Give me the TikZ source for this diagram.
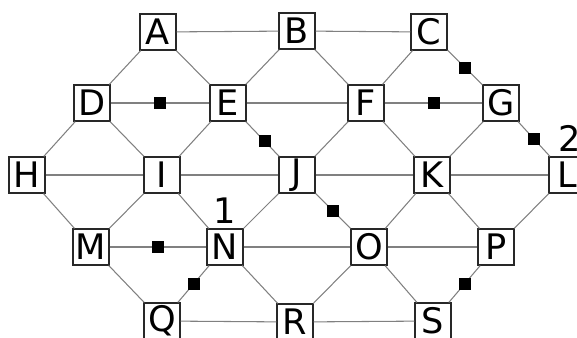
\documentclass[tikz,border=0pt]{standalone}
\usepackage{fontspec}
\setmainfont{DejaVu Sans}
\usepackage{tikz}
\usetikzlibrary{positioning}
\definecolor{edgegray}{RGB}{128, 128, 128}
\definecolor{boxline}{RGB}{40, 40, 40}

\begin{document}
\begin{tikzpicture}[x=0.025cm, y=-0.025cm,
  vbox/.style={rectangle, draw=boxline, fill=white, line width=0.8pt,
    minimum size=0.9cm, inner sep=0pt,
    font=\fontsize{25pt}{26pt}\selectfont},
  edge/.style={draw=edgegray, line width=0.75pt},
  sq/.style={rectangle, fill=black, minimum size=0.3cm, inner sep=0pt},
  num/.style={font=\fontsize{25pt}{26pt}\selectfont}
]
\useasboundingbox (0,0) rectangle (577,337);
\clip (0,0) rectangle (577,337);
% vertices
\node[vbox] at (158, 32)  (a) {A};
\node[vbox] at (297, 31)  (b) {B};
\node[vbox] at (429, 32)  (c) {C};
\node[vbox] at (92,  103) (d) {D};
\node[vbox] at (228, 103) (e) {E};
\node[vbox] at (366, 103) (f) {F};
\node[vbox] at (501, 103) (g) {G};
\node[vbox] at (27,  175) (h) {H};
\node[vbox] at (162, 175) (i) {I};
\node[vbox] at (297, 175) (j) {J};
\node[vbox] at (432, 175) (k) {K};
\node[vbox] at (567, 175) (l) {L};
\node[vbox] at (91,  247) (m) {M};
\node[vbox] at (225, 247) (n) {N};
\node[vbox] at (369, 247) (o) {O};
\node[vbox] at (496, 247) (p) {P};
\node[vbox] at (162, 321) (q) {Q};
\node[vbox] at (295, 322) (r) {R};
\node[vbox] at (433, 321) (s) {S};
% edges
\draw[edge] (a) -- (b);
\draw[edge] (b) -- (c);
\draw[edge] (a) -- (d);
\draw[edge] (a) -- (e);
\draw[edge] (b) -- (e);
\draw[edge] (b) -- (f);
\draw[edge] (c) -- (f);
\draw[edge] (c) -- node[sq] {} (g);
\draw[edge] (d) -- node[sq] {} (e);
\draw[edge] (e) -- (f);
\draw[edge] (f) -- node[sq] {} (g);
\draw[edge] (d) -- (h);
\draw[edge] (d) -- (i);
\draw[edge] (e) -- (i);
\draw[edge] (e) -- node[sq, pos=0.56] {} (j);
\draw[edge] (f) -- (j);
\draw[edge] (f) -- (k);
\draw[edge] (g) -- (k);
\draw[edge] (g) -- node[sq] {} (l);
\draw[edge] (h) -- (i);
\draw[edge] (i) -- (j);
\draw[edge] (j) -- (k);
\draw[edge] (k) -- (l);
\draw[edge] (h) -- (m);
\draw[edge] (i) -- (m);
\draw[edge] (i) -- (n);
\draw[edge] (j) -- (n);
\draw[edge] (j) -- node[sq] {} (o);
\draw[edge] (k) -- (o);
\draw[edge] (k) -- (p);
\draw[edge] (l) -- (p);
\draw[edge] (m) -- node[sq] {} (n);
\draw[edge] (n) -- (o);
\draw[edge] (o) -- (p);
\draw[edge] (m) -- (q);
\draw[edge] (n) -- node[sq] {} (q);
\draw[edge] (n) -- (r);
\draw[edge] (o) -- (r);
\draw[edge] (o) -- (s);
\draw[edge] (p) -- node[sq] {} (s);
\draw[edge] (q) -- (r);
\draw[edge] (r) -- (s);
% labels
\node[num, above=0pt of n] (lbl1) {1};
\node[num, above=0pt of l, xshift=2pt] (lbl2) {2};
\end{tikzpicture}
\end{document}
